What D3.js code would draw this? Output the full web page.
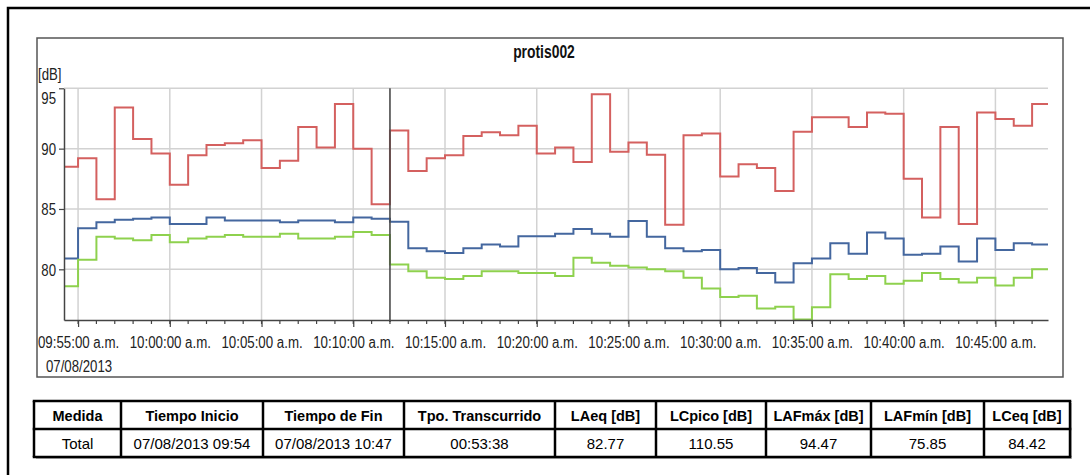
<!DOCTYPE html>
<html><head><meta charset="utf-8">
<script src="https://cdn.jsdelivr.net/npm/d3@7"></script>
<style>body{margin:0;background:#fff}svg{display:block}</style>
</head><body><svg id="c" width="1090" height="475"></svg>
<script>
// ---------- data ----------
const chartTitle = "protis002";
const yUnit = "[dB]";
const dateLabel = "07/08/2013";
const startTime = "09:54:14";
const endTime = "10:47:52";
const cursorTime = "10:12:00";
const yTicks = [80, 85, 90, 95];
const yMin = 75.8, yMax = 95;
const xTickLabels = ["09:55:00 a.m.","10:00:00 a.m.","10:05:00 a.m.","10:10:00 a.m.","10:15:00 a.m.","10:20:00 a.m.","10:25:00 a.m.","10:30:00 a.m.","10:35:00 a.m.","10:40:00 a.m.","10:45:00 a.m."];
// one value per minute interval (first is partial 09:54:14-09:55)
const seriesRed = [88.5,89.2,85.8,93.4,90.8,89.6,87.0,89.45,90.3,90.45,90.7,88.4,89.0,91.8,90.1,93.7,90.0,85.4,91.5,88.15,89.2,89.45,91.05,91.35,91.1,91.9,89.6,90.1,88.9,94.5,89.75,90.5,89.5,83.7,91.1,91.25,87.7,88.7,88.4,86.5,91.4,92.6,92.6,91.8,93.0,92.9,87.5,84.3,91.8,83.75,93.0,92.45,91.9,93.7];
const seriesBlue = [80.9,83.4,83.9,84.1,84.2,84.3,83.75,83.75,84.3,84.05,84.05,84.05,83.9,84.05,84.05,83.9,84.3,84.2,83.95,81.75,81.5,81.35,81.75,82.05,81.9,82.75,82.75,82.95,83.35,82.95,82.7,84.0,82.7,81.75,81.5,81.6,80.0,80.1,79.7,78.9,80.5,80.9,82.15,81.3,83.05,82.55,81.2,81.3,81.9,80.65,82.55,81.6,82.15,82.05];
const seriesGreen = [78.6,80.8,82.7,82.55,82.4,82.85,82.25,82.55,82.7,82.85,82.7,82.7,82.95,82.55,82.55,82.7,83.1,82.85,80.4,79.85,79.3,79.2,79.45,79.85,79.85,79.7,79.7,79.45,80.95,80.55,80.3,80.15,80.0,79.85,79.3,78.4,77.7,77.8,76.75,76.9,75.85,76.85,79.6,79.2,79.45,78.8,79.05,79.7,79.2,78.9,79.3,78.65,79.3,80.0];
const seriesColors = ["#d4605f", "#44679f", "#8ed14e"];
const tableHeaders = ["Medida","Tiempo Inicio","Tiempo de Fin","Tpo. Transcurrido","LAeq [dB]","LCpico [dB]","LAFmáx [dB]","LAFmín [dB]","LCeq [dB]"];
const tableValues = ["Total","07/08/2013 09:54","07/08/2013 10:47","00:53:38","82.77","110.55","94.47","75.85","84.42"];

// ---------- layout ----------
const svg = d3.select("#c");
const sans = "'Liberation Sans',Arial,sans-serif";
const P = {left:64, right:1048, top:88.3, bottom:320};
const NARROW = 0.83;
function narrowed(sel, f) {
  sel.each(function(){
    const w = this.getComputedTextLength();
    d3.select(this).attr("textLength", w * f).attr("lengthAdjust","spacingAndGlyphs");
  });
}

svg.append("rect").attr("width",1090).attr("height",475).attr("fill","#fff");
// outer frame
svg.append("path").attr("d","M8,475V8H1090").attr("fill","none").attr("stroke","#000").attr("stroke-width",2.5);
// chart box
svg.append("rect").attr("x",37).attr("y",38).attr("width",1026).attr("height",339)
  .attr("fill","none").attr("stroke","#555").attr("stroke-width",1.5);

svg.append("text").attr("x",544).attr("y",58).attr("text-anchor","middle")
  .attr("font-family",sans).attr("font-weight","bold").attr("font-size",18.5).attr("fill","#111")
  .text(chartTitle).call(narrowed, 0.75);

const parse = d3.timeParse("%H:%M:%S");
const t0 = parse(startTime), t1 = parse(endTime);
const x = d3.scaleTime().domain([t0, t1]).range([P.left, P.right]);
const y = d3.scaleLinear().domain([yMin, yMax]).range([P.bottom, P.top]);

const minuteStarts = [t0, ...d3.timeMinute.range(d3.timeMinute.ceil(t0), t1)];
const majorTicks = d3.timeMinute.every(5).range(d3.timeMinute.ceil(t0), t1);
const minorTicks = d3.timeMinute.range(d3.timeMinute.ceil(t0), t1);

// grid
const grid = svg.append("g").attr("stroke","#d2d2d2").attr("stroke-width",1.5);
grid.selectAll("line.h").data(yTicks).join("line").attr("class","h")
  .attr("x1",P.left).attr("x2",P.right).attr("y1",d=>y(d)).attr("y2",d=>y(d));
grid.selectAll("line.v").data(majorTicks).join("line").attr("class","v")
  .attr("x1",d=>x(d)).attr("x2",d=>x(d)).attr("y1",P.top).attr("y2",P.bottom);

// series
svg.append("clipPath").attr("id","clip").append("rect")
  .attr("x",P.left).attr("y",P.top-3).attr("width",P.right-P.left).attr("height",P.bottom-P.top+3);
const line = d3.line().x(d=>x(d[0])).y(d=>y(d[1])).curve(d3.curveStepAfter);
[seriesRed, seriesBlue, seriesGreen].forEach((s,i)=>{
  const pts = minuteStarts.map((t,j)=>[t,s[j]]);
  pts.push([t1, s[s.length-1]]);
  svg.append("path").attr("d",line(pts)).attr("fill","none")
    .attr("stroke",seriesColors[i]).attr("stroke-width",2).attr("clip-path","url(#clip)");
});

// cursor line
svg.append("line").attr("x1",x(parse(cursorTime))).attr("x2",x(parse(cursorTime)))
  .attr("y1",P.top).attr("y2",P.bottom+2).attr("stroke","#4a4a4a").attr("stroke-width",1.6);

// y axis
const ya = svg.append("g").attr("transform",`translate(${P.left},0)`)
  .call(d3.axisLeft(y).tickValues(yTicks).tickSize(5).tickPadding(3).tickSizeOuter(0));
ya.select(".domain").attr("stroke","#444").attr("stroke-width",1.5);
ya.selectAll(".tick line").attr("stroke","#444").attr("stroke-width",1.2);
ya.selectAll("text").attr("font-family",sans).attr("font-size",16.5).attr("fill","#222")
  .attr("dy", d => d === yMax ? "0.92em" : "0.36em")
  .call(narrowed, 0.8);
svg.append("text").attr("x",38).attr("y",80).attr("font-family",sans).attr("font-size",16.5).attr("fill","#222")
  .text(yUnit).call(narrowed, 0.8);

// x axis
const xa = svg.append("g").attr("transform",`translate(0,${P.bottom})`);
xa.call(d3.axisBottom(x).tickValues(majorTicks).tickSize(7).tickSizeOuter(0)
  .tickFormat((d,i)=>xTickLabels[i]));
xa.select(".domain").attr("stroke","#444").attr("stroke-width",1.5);
xa.selectAll(".tick line").attr("stroke","#444").attr("stroke-width",1.2);
xa.selectAll("text").attr("font-family",sans).attr("font-size",16).attr("fill","#222")
  .attr("y",27.5).attr("dy",0).call(narrowed, NARROW);
xa.selectAll("line.minor").data(minorTicks).join("line").attr("class","minor")
  .attr("x1",d=>x(d)).attr("x2",d=>x(d)).attr("y1",0).attr("y2",4)
  .attr("stroke","#444").attr("stroke-width",1.2);
svg.append("text").attr("x",x(majorTicks[0])+1).attr("y",372).attr("text-anchor","middle")
  .attr("font-family",sans).attr("font-size",16.5).attr("fill","#222").text(dateLabel).call(narrowed, 0.8);

// table
const colX = [34,121,263,404,555,656,766,871,984,1070];
const rowY = [401,429,457];
const tg = svg.append("g");
tg.append("rect").attr("x",colX[0]+2).attr("y",rowY[0]+2).attr("width",colX[9]-colX[0]).attr("height",rowY[2]-rowY[0]).attr("fill","#bbb");
tg.append("rect").attr("x",colX[0]).attr("y",rowY[0]).attr("width",colX[9]-colX[0]).attr("height",rowY[2]-rowY[0]).attr("fill","#fff");
tg.selectAll("line.c").data(colX).join("line").attr("class","c")
  .attr("x1",d=>d).attr("x2",d=>d).attr("y1",rowY[0]).attr("y2",rowY[2]).attr("stroke","#000").attr("stroke-width",2.5);
tg.selectAll("line.r").data(rowY).join("line").attr("class","r")
  .attr("x1",colX[0]-1.25).attr("x2",colX[9]+1.25).attr("y1",d=>d).attr("y2",d=>d).attr("stroke","#000").attr("stroke-width",2.5);
tg.selectAll("text.h").data(tableHeaders).join("text").attr("class","h")
  .attr("x",(d,i)=>(colX[i]+colX[i+1])/2).attr("y",(rowY[0]+rowY[1])/2+5.5)
  .attr("text-anchor","middle").attr("font-family",sans).attr("font-weight","bold").attr("font-size",14.5).attr("fill","#000").text(d=>d);
tg.selectAll("text.v").data(tableValues).join("text").attr("class","v")
  .attr("x",(d,i)=>(colX[i]+colX[i+1])/2).attr("y",(rowY[1]+rowY[2])/2+5.5)
  .attr("text-anchor","middle").attr("font-family",sans).attr("font-size",15).attr("fill","#000").text(d=>d);
</script></body></html>
